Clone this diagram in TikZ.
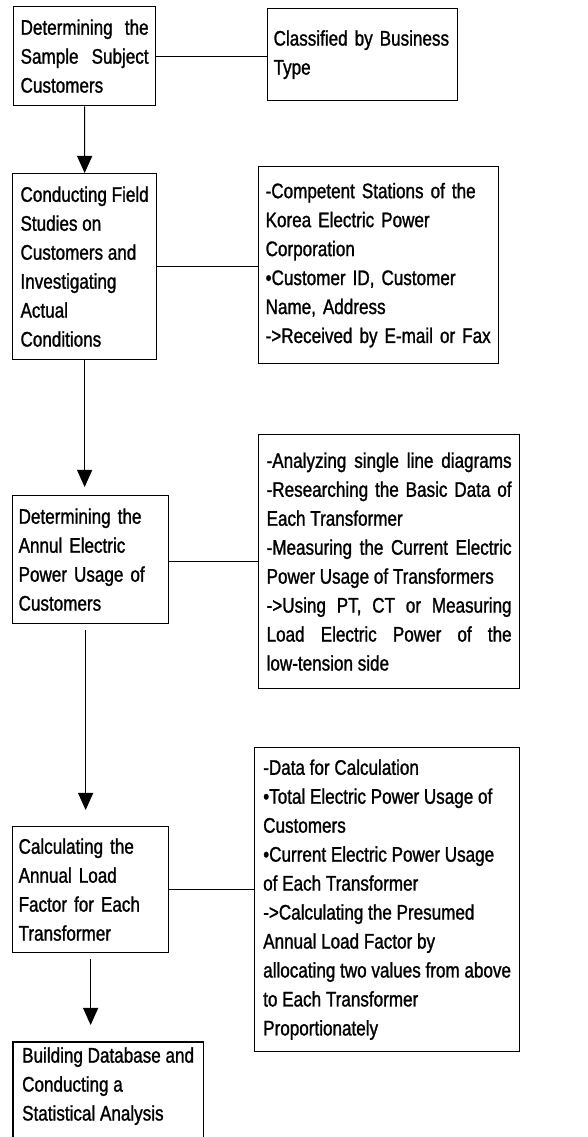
\documentclass[tikz,border=0pt]{standalone}
\usepackage{fontspec}
\setmainfont{Liberation Sans}[FakeStretch=0.81, FakeBold=1.2]
\usepackage{tikz}
\usetikzlibrary{arrows.meta, calc}

\begin{document}
\begin{tikzpicture}[
  stepbox/.style={draw, line width=0.9pt, anchor=north west, align=left, inner xsep=0.15cm,
    font=\fontsize{15pt}{20.6pt}\selectfont},
  notebox/.style={stepbox},
  flow/.style={-{Triangle[length=0.43cm, width=0.38cm]}, line width=0.7pt},
  link/.style={line width=0.7pt}]
  \useasboundingbox (0,0) rectangle (14.7,-28.425);

  % ===== STEP 1 =====
  \node[stepbox, align=justify, text width=3.2cm, inner xsep=0.175cm, minimum height=2.475cm] (sample) at (0.325,-0.15)
    {Determining the\linebreak Sample Subject\linebreak Customers};
  \node[notebox, text width=4.45cm, minimum height=2.3cm] (business) at (6.675,-0.2)
    {Classified by Business\\ Type};
  \draw[link] (sample.east) -- (sample.east -| business.west);

  % ===== STEP 2 =====
  \node[stepbox, minimum width=3.6cm, minimum height=4.65cm] (field) at (0.3,-4.325)
    {Conducting Field\\ Studies on\\ Customers and\\ Investigating\\ Actual\\ Conditions};
  \node[notebox, text width=5.65cm, inner xsep=0.175cm, minimum height=4.925cm] (kepco) at (6.45,-4.15)
    {-Competent Stations of the\\ Korea Electric Power\\ Corporation\\ •Customer ID, Customer\\ Name, Address\\ ->Received by E-mail or Fax};
  \draw[link] (field.east) -- (field.east -| kepco.west);
  \draw[flow] (sample) -- (field);

  % ===== STEP 3 =====
  \node[stepbox, text width=3.6cm, minimum height=3.2cm] (usage) at (0.3,-12.375)
    {Determining the\\ Annul Electric\\ Power Usage of\\ Customers};
  \node[notebox, align=justify, text width=6.125cm, inner xsep=0.2cm, minimum height=6.35cm] (survey) at (6.45,-10.85)
    {-Analyzing single line diagrams\linebreak -Researching the Basic Data of\linebreak Each Transformer\newline -Measuring the Current Electric\linebreak Power Usage of Transformers\newline ->Using PT, CT or Measuring\linebreak Load Electric Power of the\linebreak low-tension side};
  \draw[link] (survey.west -| usage.east) -- (survey.west);
  \draw[flow, shorten >=0.2cm] (field.south) -- (field.south |- usage.north);

  % ===== STEP 4 =====
  \node[stepbox, text width=3.6cm, minimum height=3.15cm] (factor) at (0.3,-20.65)
    {Calculating the\\ Annual Load\\ Factor for Each\\ Transformer};
  \node[notebox, minimum width=6.625cm, minimum height=7.6cm] (calcdata) at (6.35,-18.675)
    {-Data for Calculation\\ •Total Electric Power Usage of\\ Customers\\ •Current Electric Power Usage\\ of Each Transformer\\ ->Calculating the Presumed\\ Annual Load Factor by\\ allocating two values from above\\ to Each Transformer\\ Proportionately};
  \draw[link] (factor.east) -- (factor.east -| calcdata.west);
  \draw[flow, shorten <=0.15cm, shorten >=0.4cm] ([xshift=-0.125cm]usage.south) -- ([xshift=-0.125cm]usage.south |- factor.north);

  % ===== STEP 5 (cut off at the bottom) =====
  \node[stepbox, draw=none, minimum width=4.725cm] (database) at (0.325,-26.05)
    {Building Database and\\ Conducting a\\ Statistical Analysis};
  \draw[line width=0.9pt] ([yshift=-0.6cm]database.south west) |- (database.north east) -- ([yshift=-0.6cm]database.south east);
  \draw[flow, shorten <=0.15cm, shorten >=0.425cm] (factor.south) -- (factor.south |- database.north);
\end{tikzpicture}
\end{document}
